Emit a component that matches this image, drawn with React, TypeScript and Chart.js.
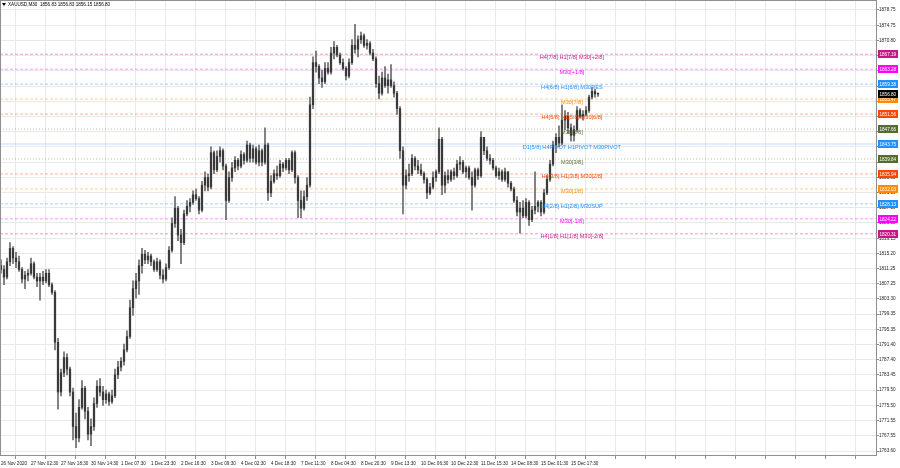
import { useEffect, useRef } from 'react';
import { Chart, registerables } from 'chart.js';

Chart.register(...registerables);

// ---- data ----
const titleText = 'XAUUSD,M30  1856.83 1856.83 1856.15 1856.80';

// [open, high, low, close] per sampled M30 candle
const candles: number[][] = [
  [1812, 1813.5, 1810, 1811], [1811, 1812, 1807, 1809], [1809, 1814, 1808.5, 1813], [1813, 1818, 1812, 1816.5],
  [1816.5, 1817, 1812.5, 1814], [1814, 1815.5, 1811.5, 1813], [1813, 1814.5, 1810.5, 1811], [1811, 1811.5, 1807.5, 1808.5],
  [1808.5, 1810.5, 1806, 1809.5], [1809.5, 1811, 1808, 1810], [1810, 1814, 1809.5, 1812.5], [1812.5, 1813, 1808.5, 1809],
  [1809, 1810, 1806.5, 1808], [1808, 1810, 1803, 1809], [1809, 1810.5, 1807, 1808], [1808, 1811, 1807.5, 1810],
  [1810, 1811, 1806.5, 1807], [1807, 1807.5, 1804.5, 1805], [1805, 1805.5, 1790, 1792], [1792, 1793, 1774.5, 1779],
  [1779, 1785, 1778, 1784], [1784, 1789.5, 1783, 1788], [1788, 1789, 1783.5, 1785], [1785, 1785.5, 1778, 1779],
  [1779, 1780, 1766.5, 1770], [1770, 1773.5, 1764.5, 1767], [1767, 1777, 1766, 1775], [1775, 1782, 1774.5, 1780],
  [1780, 1780.5, 1772, 1774], [1774, 1775, 1766.5, 1768], [1768, 1772, 1765, 1770], [1770, 1777.5, 1769, 1776],
  [1776, 1782, 1775, 1780.5], [1780.5, 1782.5, 1778, 1779], [1779, 1780.5, 1775.5, 1777], [1777, 1779.5, 1776, 1778.5],
  [1778.5, 1779, 1775.5, 1776.5], [1776.5, 1779.5, 1776, 1778], [1778, 1785, 1777.5, 1783.5], [1783.5, 1787, 1782.5, 1785.5],
  [1785.5, 1788, 1784.5, 1787], [1787, 1791.5, 1786, 1790], [1790, 1795, 1789.5, 1793.5], [1793.5, 1803, 1793, 1801],
  [1801, 1808, 1799, 1806], [1806, 1810, 1803.5, 1808], [1808, 1813.5, 1804.5, 1812], [1812, 1816.5, 1810, 1815],
  [1815, 1816, 1812.5, 1813.5], [1813.5, 1815.5, 1812.5, 1814.5], [1814.5, 1815, 1812, 1813], [1813, 1813.5, 1810.5, 1811],
  [1811, 1814, 1810.5, 1813], [1813, 1813.5, 1808.5, 1809.5], [1809.5, 1811, 1807.5, 1808.5], [1808.5, 1812.5, 1808, 1811.5],
  [1811.5, 1817, 1811, 1816], [1816, 1824.5, 1815.5, 1823], [1823, 1830, 1822, 1827], [1827, 1827.5, 1818.5, 1820],
  [1820, 1821.5, 1812.5, 1818], [1818, 1826.5, 1817.5, 1825.5], [1825.5, 1829, 1825, 1827.5], [1827.5, 1829.5, 1826, 1828.5],
  [1828.5, 1831.5, 1828, 1830.5], [1830.5, 1832, 1829, 1829.5], [1829.5, 1830, 1825.5, 1826.5], [1826.5, 1834, 1826, 1833],
  [1833, 1836.5, 1831.5, 1835], [1835, 1836, 1831.5, 1832.5], [1832.5, 1843, 1832, 1841.5], [1841.5, 1842, 1836, 1837],
  [1837, 1842, 1836.5, 1840.5], [1840.5, 1843, 1839, 1842], [1842, 1842.5, 1837, 1838], [1838, 1838.5, 1824, 1829],
  [1829, 1836.5, 1828.5, 1835], [1835, 1839, 1834, 1837.5], [1837.5, 1840.5, 1836.5, 1839.5], [1839.5, 1840, 1837, 1838],
  [1838, 1842, 1837.5, 1841], [1841, 1841.5, 1838.5, 1839.5], [1839.5, 1844.5, 1839, 1843.5], [1843.5, 1844, 1839, 1840],
  [1840, 1843.5, 1839, 1842.5], [1842.5, 1843, 1838.5, 1839], [1839, 1843.5, 1838, 1842], [1842, 1842.5, 1838, 1839],
  [1839, 1848, 1838.5, 1843.5], [1843.5, 1844, 1829, 1831], [1831, 1835.5, 1830, 1834], [1834, 1837, 1833.5, 1836],
  [1836, 1838, 1834.5, 1835.5], [1835.5, 1839.5, 1835, 1838.5], [1838.5, 1839, 1836.5, 1837.5], [1837.5, 1840, 1837, 1839.5],
  [1839.5, 1840, 1836, 1837], [1837, 1842, 1836.5, 1841.5], [1841.5, 1842, 1833.5, 1835], [1835, 1835.5, 1824.5, 1829],
  [1829, 1831.5, 1824.5, 1827], [1827, 1831.5, 1826.5, 1830], [1830, 1835, 1829, 1833], [1833, 1856, 1832.5, 1854],
  [1854, 1866.5, 1853, 1865], [1865, 1868, 1862.5, 1864], [1864, 1864.5, 1859.5, 1861], [1861, 1863, 1858.5, 1860],
  [1860, 1865, 1859.5, 1863.5], [1863.5, 1865, 1862, 1862.5], [1862.5, 1869, 1862, 1867.5], [1867.5, 1870.5, 1866, 1869],
  [1869, 1869.5, 1866.5, 1867], [1867, 1867.5, 1864.5, 1865], [1865, 1866, 1863, 1863.5], [1863.5, 1864, 1860.5, 1861.5],
  [1861.5, 1866, 1861, 1865], [1865, 1871, 1864.5, 1869.5], [1869.5, 1875, 1867.5, 1868.5], [1868.5, 1872, 1866.5, 1871],
  [1871, 1873, 1870, 1872], [1872, 1872.5, 1869, 1869.5], [1869.5, 1871, 1868.5, 1870], [1870, 1870.5, 1867, 1867.5],
  [1867.5, 1868.5, 1865.5, 1866], [1866, 1866.5, 1858.5, 1859.5], [1859.5, 1861.5, 1855.5, 1857], [1857, 1862.5, 1856.5, 1861],
  [1861, 1864, 1858.5, 1859], [1859, 1862, 1857, 1860.5], [1860.5, 1864.5, 1858.5, 1859], [1859, 1860, 1856, 1857],
  [1857, 1857.5, 1851.5, 1853], [1853, 1853.5, 1840, 1842], [1842, 1843, 1825.5, 1833], [1833, 1837, 1832, 1835.5],
  [1835.5, 1838.5, 1834, 1836], [1836, 1841, 1835.5, 1840], [1840, 1840.5, 1837, 1838], [1838, 1839.5, 1836, 1837],
  [1837, 1838.5, 1835.5, 1836], [1836, 1836.5, 1833.5, 1834.5], [1834.5, 1835, 1829.5, 1831], [1831, 1833.5, 1830.5, 1832.5],
  [1832.5, 1836.5, 1832, 1835], [1835, 1837, 1834, 1836.5], [1836.5, 1848, 1836, 1845], [1845, 1845.5, 1830.5, 1833],
  [1833, 1836.5, 1831, 1835.5], [1835.5, 1837, 1833.5, 1834.5], [1834.5, 1837, 1834, 1836.5], [1836.5, 1837.5, 1834.5, 1835.5],
  [1835.5, 1839.5, 1835, 1838.5], [1838.5, 1840.5, 1837, 1839], [1839, 1839.5, 1836, 1836.5], [1836.5, 1838, 1835, 1837.5],
  [1837.5, 1838, 1834.5, 1835], [1835, 1836.5, 1826.5, 1833], [1833, 1837.5, 1832.5, 1837], [1837, 1837.5, 1834.5, 1835.5],
  [1835.5, 1847, 1835, 1845.5], [1845.5, 1845.5, 1841, 1842], [1842, 1843, 1839.5, 1840], [1840, 1841, 1838.5, 1839.5],
  [1839.5, 1840, 1837, 1837.5], [1837.5, 1838, 1835, 1835.5], [1835.5, 1837.5, 1834.5, 1836.5], [1836.5, 1837, 1834, 1834.5],
  [1834.5, 1837.5, 1834, 1836.5], [1836.5, 1836.5, 1832.5, 1833.5], [1833.5, 1834, 1831.5, 1832], [1832, 1832.5, 1828.5, 1829],
  [1829, 1830, 1825, 1826], [1826, 1828.5, 1820.5, 1827], [1827, 1829, 1824.5, 1825], [1825, 1829.5, 1824.5, 1828.5],
  [1828.5, 1829, 1822.5, 1824], [1824, 1827.5, 1823.5, 1826.5], [1826.5, 1836.5, 1825.5, 1827.5], [1827.5, 1829, 1826, 1828.5],
  [1828.5, 1829, 1825, 1826], [1826, 1832, 1825.5, 1831], [1831, 1835.5, 1830.5, 1834.5], [1834.5, 1839.5, 1834, 1838.5],
  [1838.5, 1844.5, 1838, 1843.5], [1843.5, 1846.5, 1841.5, 1845.5], [1845.5, 1848.5, 1843, 1844], [1844, 1854, 1843.5, 1850],
  [1850, 1852.5, 1847.5, 1851], [1851, 1852, 1846.5, 1848], [1848, 1849, 1844.5, 1846], [1846, 1848.5, 1844.5, 1847.5],
  [1847.5, 1853.5, 1847, 1852.5], [1852.5, 1853, 1850.5, 1851], [1851, 1852.5, 1850, 1851.5], [1851.5, 1853.5, 1851, 1852.5],
  [1852.5, 1856.5, 1852, 1856], [1856, 1858.5, 1855.5, 1857.5], [1857.5, 1858, 1856, 1856.83], [1856.83, 1856.83, 1856.15, 1856.8],
];

const timeLabels = [
  '26 Nov 2020', '27 Nov 02:30', '27 Nov 18:30', '30 Nov 14:30', '1 Dec 07:30', '1 Dec 23:30', '2 Dec 16:30',
  '3 Dec 09:30', '4 Dec 02:30', '4 Dec 18:30', '7 Dec 11:30', '8 Dec 04:30', '8 Dec 20:30', '9 Dec 13:30',
  '10 Dec 06:30', '10 Dec 22:30', '11 Dec 15:30', '14 Dec 08:30', '15 Dec 01:30', '15 Dec 17:30',
];

const priceTicks = [
  1763.60, 1767.55, 1771.55, 1775.50, 1779.50, 1783.45, 1787.40, 1791.40, 1795.35, 1799.35, 1803.30, 1807.25,
  1811.25, 1815.20, 1819.15, 1823.15, 1827.10, 1831.10, 1835.05, 1839.00, 1843.00, 1846.95, 1850.90, 1854.90,
  1858.85, 1862.85, 1866.80, 1870.80, 1874.75, 1878.75,
];

const levelValues = [1867.19, 1863.28, 1859.38, 1855.47, 1851.56, 1847.66, 1843.75, 1839.84, 1835.94, 1832.03, 1828.13, 1824.22, 1820.31];
const levelNames = [
  'H4[7/8] H1[7/8] M30[+2/8]', 'M30[+1/8]', 'H4[6/8] H1[6/8] M30RES', 'M30[7/8]', 'H4[5/8] H1[5/8] M30[6/8]',
  'M30[5/8]', 'D1[5/8] H4PIVOT H1PIVOT M30PIVOT', 'M30[3/8]', 'H4[3/8] H1[3/8] M30[2/8]', 'M30[1/8]',
  'H4[2/8] H1[2/8] M30SUP', 'M30[-1/8]', 'H4[1/8] H1[1/8] M30[-2/8]',
];
const levelColors = [
  '#C71585', '#FF00FF', '#1E90FF', '#FF8C00', '#FF4500', '#556B2F', '#1E90FF',
  '#556B2F', '#FF4500', '#FF8C00', '#1E90FF', '#FF00FF', '#C71585',
];
const levelStyles = ['dash', 'dash', 'dash', 'dash', 'dash', 'dot', 'solid', 'dot', 'dash', 'dash', 'dash', 'dash', 'dash'];

const bidPrice = 1856.80;

// ---- layout constants ----
const X_MIN = -0.333;
const X_MAX = 292;
const Y_MIN = 1762.3;
const Y_MAX = 1881.35;
const LABEL_X = 190.3;
const SMALL_FONT = '4.6px "Liberation Sans", Arial, sans-serif';
const LEVEL_FONT = '5.6px "Liberation Sans", Arial, sans-serif';

function withAlpha(hex: string, a: number) {
  const r = parseInt(hex.slice(1, 3), 16);
  const g = parseInt(hex.slice(3, 5), 16);
  const b = parseInt(hex.slice(5, 7), 16);
  return `rgba(${r},${g},${b},${a})`;
}

const overlayPlugin = {
  id: 'mt4Overlay',
  afterDatasetsDraw(chart: any) {
    const { ctx, scales } = chart;
    const xs = scales.x;
    const ys = scales.y;
    ctx.save();
    ctx.font = LEVEL_FONT;
    ctx.textAlign = 'center';
    ctx.textBaseline = 'middle';
    levelValues.forEach((v, i) => {
      ctx.fillStyle = levelColors[i];
      ctx.fillText(levelNames[i], xs.getPixelForValue(LABEL_X), ys.getPixelForValue(v) + 3);
    });
    ctx.restore();
  },
  afterDraw(chart: any) {
    const { ctx, chartArea, scales } = chart;
    const ys = scales.y;
    ctx.save();
    // plot border
    ctx.strokeStyle = '#8f8f8f';
    ctx.lineWidth = 1;
    ctx.strokeRect(chartArea.left + 0.5, chartArea.top + 0.5, chartArea.right - chartArea.left - 1, chartArea.bottom - chartArea.top - 1);
    // price tags
    const tags = levelValues.map((v, i) => ({ v, c: levelColors[i] }));
    tags.push({ v: bidPrice, c: '#000000' });
    ctx.font = SMALL_FONT;
    ctx.textAlign = 'left';
    ctx.textBaseline = 'middle';
    tags.forEach((t) => {
      const y = Math.round(ys.getPixelForValue(t.v));
      ctx.fillStyle = t.c;
      ctx.fillRect(chartArea.right + 1, y - 4, 20, 8);
      ctx.fillStyle = '#ffffff';
      ctx.fillText(t.v.toFixed(2), chartArea.right + 2.5, y + 0.5);
    });
    // title
    ctx.fillStyle = '#000000';
    ctx.beginPath();
    ctx.moveTo(2, 3);
    ctx.lineTo(6, 3);
    ctx.lineTo(4, 6);
    ctx.closePath();
    ctx.fill();
    ctx.font = SMALL_FONT;
    ctx.fillText(titleText, 8, 4.5);
    ctx.restore();
  },
};

export default function App() {
  const ref = useRef<HTMLCanvasElement | null>(null);

  useEffect(() => {
    const canvas = ref.current;
    if (!canvas) return;

    const wickData = candles.map((c, i) => ({ x: i, y: [c[2], c[1]] }));
    const bodyData = candles.map((c, i) => ({ x: i, y: [c[0], c[3]] }));

    const levelSets = levelValues.map((v, i) => ({
      type: 'line' as const,
      data: [{ x: X_MIN, y: v }, { x: X_MAX, y: v }],
      borderColor: withAlpha(levelColors[i], levelStyles[i] === 'solid' ? 0.3 : 0.42),
      borderWidth: 1,
      borderDash: levelStyles[i] === 'solid' ? [] : levelStyles[i] === 'dot' ? [1, 2] : [3, 2],
      pointRadius: 0,
      order: 2,
    }));

    const xGridTicks: number[] = [];
    for (let v = 0; v <= X_MAX; v += 10) xGridTicks.push(v);

    const chart = new Chart(canvas, {
      type: 'bar',
      data: {
        datasets: [
          {
            type: 'bar',
            data: wickData as any,
            backgroundColor: '#6a6a6a',
            barThickness: 1,
            grouped: false,
            order: 1,
          } as any,
          {
            type: 'bar',
            data: bodyData as any,
            backgroundColor: '#3a3a3a',
            barThickness: 1.6,
            minBarLength: 1,
            grouped: false,
            order: 0,
          } as any,
          ...(levelSets as any),
        ],
      },
      options: {
        animation: false,
        responsive: false,
        devicePixelRatio: 1,
        events: [],
        layout: { padding: 0 },
        plugins: { legend: { display: false }, tooltip: { enabled: false } },
        scales: {
          x: {
            type: 'linear',
            position: 'bottom',
            min: X_MIN,
            max: X_MAX,
            offset: false,
            border: { display: false },
            grid: { color: '#e9e9e9', tickLength: 3, tickColor: '#8f8f8f' },
            afterBuildTicks: (s: any) => {
              s.ticks = xGridTicks.map((v) => ({ value: v }));
            },
            afterFit: (s: any) => {
              s.height = 12;
              s.paddingLeft = 0;
              s.paddingRight = 0;
              s.paddingTop = 0;
              s.paddingBottom = 0;
            },
            ticks: {
              autoSkip: false,
              maxRotation: 0,
              minRotation: 0,
              align: 'start',
              padding: 2,
              color: '#1a1a1a',
              font: { family: '"Liberation Sans", Arial, sans-serif', size: 4.6 },
              callback: (_v: any, idx: number) => timeLabels[idx] ?? '',
            },
          },
          y: {
            type: 'linear',
            position: 'right',
            min: Y_MIN,
            max: Y_MAX,
            border: { display: false },
            grid: { color: '#e9e9e9', tickLength: 2, tickColor: '#8f8f8f' },
            afterBuildTicks: (s: any) => {
              s.ticks = priceTicks.map((v) => ({ value: v }));
            },
            afterFit: (s: any) => {
              s.width = 23;
              s.paddingLeft = 0;
              s.paddingRight = 0;
              s.paddingTop = 0;
              s.paddingBottom = 0;
            },
            ticks: {
              autoSkip: false,
              padding: 0,
              color: '#1a1a1a',
              font: { family: '"Liberation Sans", Arial, sans-serif', size: 4.6 },
              callback: (v: any) => Number(v).toFixed(2),
            },
          },
        },
      } as any,
      plugins: [overlayPlugin],
    });

    return () => chart.destroy();
  }, []);

  return (
    <div style={{ position: 'fixed', left: 0, top: 0, width: 900, height: 468, background: '#ffffff' }}>
      <canvas ref={ref} width={900} height={468} style={{ display: 'block' }} />
    </div>
  );
}
